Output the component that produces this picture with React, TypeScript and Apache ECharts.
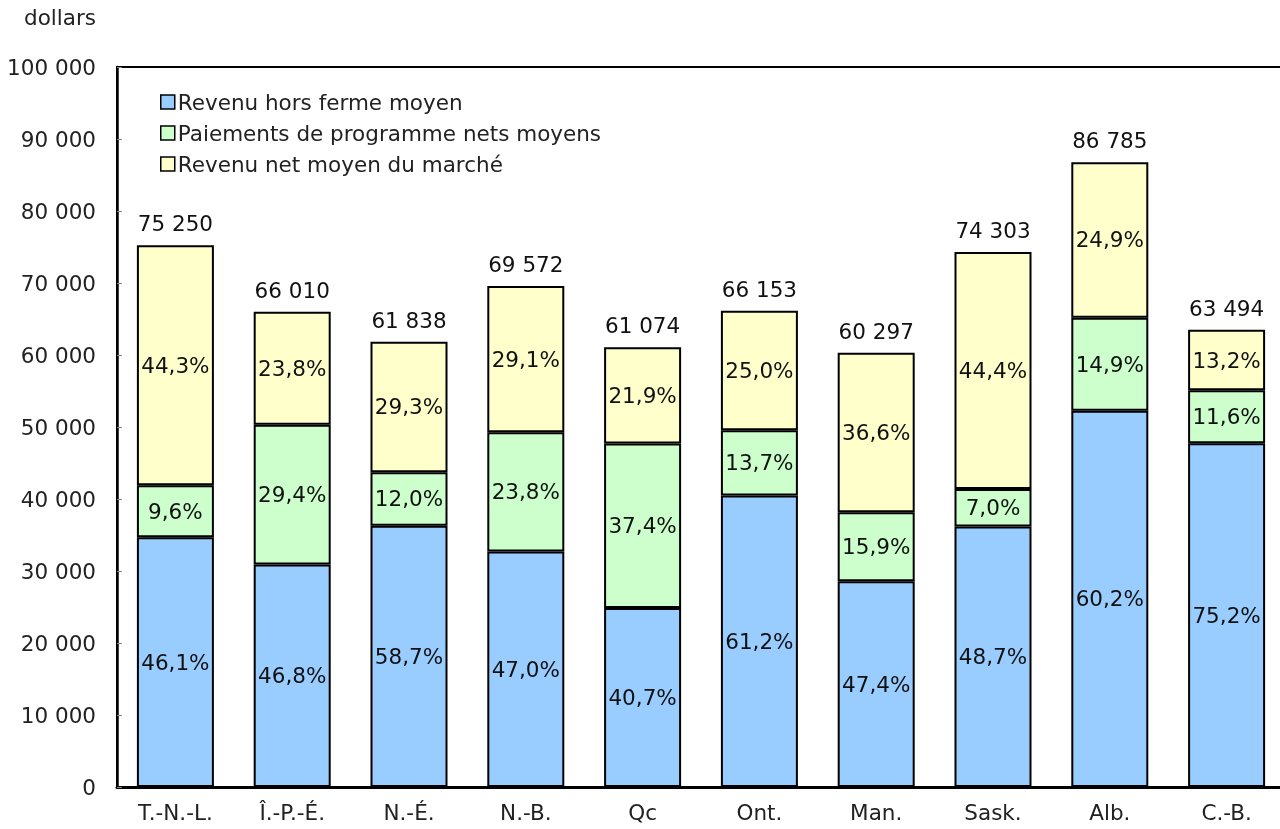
import React, { useEffect, useRef } from "react";
import * as echarts from "echarts";

const categories = ["T.-N.-L.", "Î.-P.-É.", "N.-É.", "N.-B.", "Qc", "Ont.", "Man.", "Sask.", "Alb.", "C.-B."];
const seriesNames = ["Revenu hors ferme moyen", "Paiements de programme nets moyens", "Revenu net moyen du marché"];
const offFarm = [34690, 30893, 36299, 32699, 24857, 40486, 28581, 36186, 52245, 47747];
const programPayments = [7224, 19407, 7421, 16558, 22842, 9063, 9587, 5201, 12931, 7365];
const marketIncome = [33336, 15710, 18118, 20315, 13375, 16604, 22129, 32916, 21609, 8382];
const totals = [75250, 66010, 61838, 69572, 61074, 66153, 60297, 74303, 86785, 63494];
const offFarmPct = ["46,1%", "46,8%", "58,7%", "47,0%", "40,7%", "61,2%", "47,4%", "48,7%", "60,2%", "75,2%"];
const programPct = ["9,6%", "29,4%", "12,0%", "23,8%", "37,4%", "13,7%", "15,9%", "7,0%", "14,9%", "11,6%"];
const marketPct = ["44,3%", "23,8%", "29,3%", "29,1%", "21,9%", "25,0%", "36,6%", "44,4%", "24,9%", "13,2%"];
const colors = ["#99ccff", "#ccffcc", "#ffffcc"];

const FONT = "DejaVu Sans";
const FS = 21.5;
const fmt = (v: number) => String(v).replace(/\B(?=(\d{3})+(?!\d))/g, " ");

export default function App() {
  const ref = useRef<HTMLDivElement>(null);
  useEffect(() => {
    const chart = echarts.init(ref.current!, undefined, { renderer: "svg" });
    const pctLists = [offFarmPct, programPct, marketPct];
    const dataLists = [offFarm, programPayments, marketIncome];
    const barSeries = dataLists.map((d, i) => ({
      name: seriesNames[i],
      type: "bar",
      stack: "total",
      barWidth: 77,
      data: d,
      itemStyle: { color: colors[i], borderColor: "#000", borderWidth: 2 },
      label: {
        show: true,
        position: "inside",
        formatter: (p: any) => pctLists[i][p.dataIndex],
        color: "#111",
        fontFamily: FONT,
        fontSize: FS,
      },
    }));
    chart.setOption({
      animation: false,
      textStyle: { fontFamily: FONT },
      grid: { left: 117, top: 67, bottom: 42, width: 1168, show: true, borderColor: "#000", borderWidth: 2 },
      legend: {
        orient: "vertical",
        left: 155,
        top: 86,
        itemGap: 9,
        itemWidth: 14,
        itemHeight: 14,
        icon: "rect",
        textStyle: { fontFamily: FONT, fontSize: FS, color: "#222", padding: [0, 0, 0, -2] },
        itemStyle: { borderColor: "#000", borderWidth: 1.5 },
        data: seriesNames,
      },
      graphic: [
        {
          type: "text",
          right: 1300 - 96,
          top: 6,
          style: { text: "dollars", font: `${FS}px '${FONT}'`, fill: "#222" },
        },
      ],
      xAxis: {
        type: "category",
        data: categories,
        axisLine: { lineStyle: { color: "#000", width: 3 } },
        axisTick: { show: false },
        axisLabel: { fontFamily: FONT, fontSize: FS, color: "#222", margin: 14 },
      },
      yAxis: {
        type: "value",
        min: 0,
        max: 100000,
        interval: 10000,
        splitLine: { show: false },
        axisLine: { show: true, lineStyle: { color: "#000", width: 2.5 } },
        axisTick: { show: true, inside: true, length: 5, lineStyle: { color: "#888" } },
        axisLabel: { fontFamily: FONT, fontSize: FS, color: "#222", margin: 21, formatter: (v: number) => fmt(v) },
      },
      series: [
        ...barSeries,
        {
          type: "line",
          data: totals,
          symbol: "circle",
          symbolSize: 1,
          showSymbol: true,
          itemStyle: { color: "transparent" },
          lineStyle: { opacity: 0 },
          silent: true,
          label: {
            show: true,
            position: "top",
            distance: 10,
            formatter: (p: any) => fmt(totals[p.dataIndex]),
            fontFamily: FONT,
            fontSize: FS,
            color: "#111",
          },
        },
      ],
    });
    return () => chart.dispose();
  }, []);
  return <div ref={ref} style={{ position: "fixed", left: 0, top: 0, width: 1300, height: 829 }} />;
}
